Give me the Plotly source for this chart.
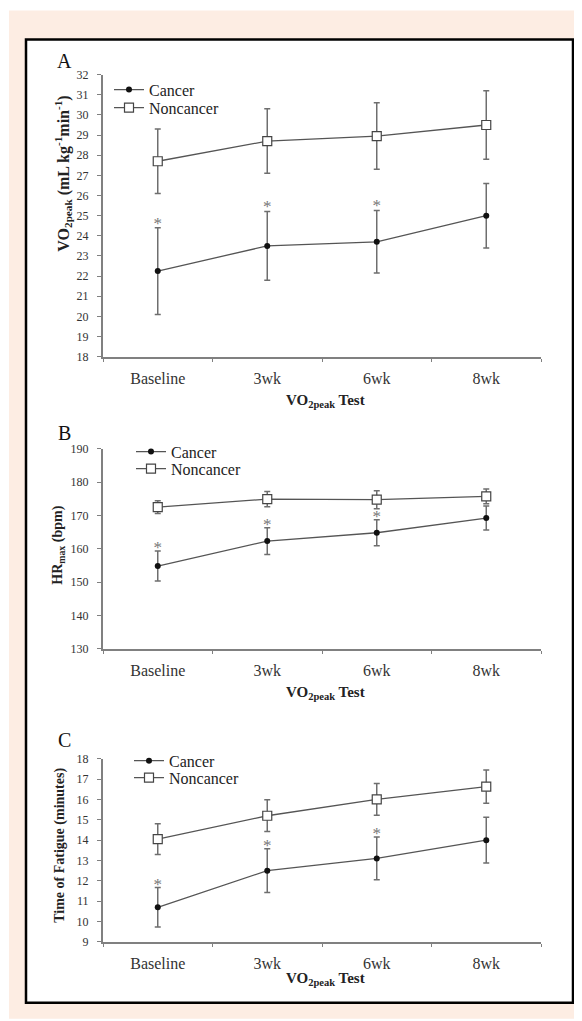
import plotly.graph_objects as go

OFF = 8  # default page body margin
W, H = 574, 1040

# empirical mapping of page y -> photographed y
Y_SCALE, Y_SHIFT = 0.9863, 6.5

categories = ["Baseline", "3wk", "6wk", "8wk"]

# Panel A: VO2peak (mL kg-1 min-1)
vo2_cancer = [22.25, 23.5, 23.7, 25.0]
vo2_cancer_err = [2.15, 1.7, 1.55, 1.6]
vo2_non = [27.7, 28.7, 28.95, 29.5]
vo2_non_err = [1.6, 1.6, 1.65, 1.7]

# Panel B: HRmax (bpm)
hr_cancer = [154.8, 162.3, 164.8, 169.2]
hr_cancer_err = [4.5, 4.0, 3.9, 3.6]
hr_non = [172.5, 174.9, 174.7, 175.7]
hr_non_err = [1.9, 2.3, 2.7, 2.2]

# Panel C: Time of fatigue (minutes)
tf_cancer = [10.7, 12.5, 13.1, 14.0]
tf_cancer_err = [0.97, 1.08, 1.05, 1.12]
tf_non = [14.05, 15.2, 16.0, 16.63]
tf_non_err = [0.75, 0.78, 0.78, 0.82]

significant = [True, True, True, False]

FONT = "Liberation Serif, Times New Roman, serif"
LINE_C = "#555555"
ERR_C = "#6e6e6e"
AXIS_C = "#808080"


def px_x(p):
    return (p - OFF) / W


def px_y(p):
    page = (p - Y_SHIFT) / Y_SCALE
    return 1 - (page - OFF) / H


panels = [
    dict(cancer=vo2_cancer, cerr=vo2_cancer_err, non=vo2_non, nerr=vo2_non_err,
         yrange=[18, 32], dtick=1, top=74, bottom=356, letter="A", letter_y=60,
         ytitle="VO<sub>2peak</sub> (mL kg<sup>-1</sup>min<sup>-1</sup>)", ytitle_x=63, ytitle_y=173,
         ytitle_size=16, xtitle_y=400, leg_x=109, leg_y=(89, 107)),
    dict(cancer=hr_cancer, cerr=hr_cancer_err, non=hr_non, nerr=hr_non_err,
         yrange=[130, 190], dtick=10, top=448, bottom=648, letter="B", letter_y=432,
         ytitle="HR<sub>max</sub> (bpm)", ytitle_x=59, ytitle_y=545,
         ytitle_size=14, xtitle_y=692, leg_x=131, leg_y=(451, 468)),
    dict(cancer=tf_cancer, cerr=tf_cancer_err, non=tf_non, nerr=tf_non_err,
         yrange=[9, 18], dtick=1, top=758, bottom=941, letter="C", letter_y=739,
         ytitle="Time of Fatigue (minutes)", ytitle_x=60, ytitle_y=845,
         ytitle_size=14, xtitle_y=978, leg_x=129, leg_y=(760, 777)),
]

fig = go.Figure()
layout_extra = {}
annotations = []
X0, X1 = 103, 541

for i, p in enumerate(panels, start=1):
    xa = "x" if i == 1 else f"x{i}"
    ya = "y" if i == 1 else f"y{i}"
    leg_c = "legend" if i == 1 else f"legend{2 * i - 1}"
    leg_n = f"legend{2 * i}"

    fig.add_trace(go.Scatter(
        x=categories, y=p["non"], name="Noncancer", mode="lines+markers",
        xaxis=xa, yaxis=ya, legend=leg_n, showlegend=True,
        line=dict(color=LINE_C, width=1.3),
        marker=dict(symbol="square", size=9, color="white",
                    line=dict(color="#444444", width=1.2)),
        error_y=dict(type="data", array=p["nerr"], color=ERR_C, thickness=1.5, width=3),
    ))
    fig.add_trace(go.Scatter(
        x=categories, y=p["cancer"], name="Cancer", mode="lines+markers",
        xaxis=xa, yaxis=ya, legend=leg_c, showlegend=True,
        line=dict(color=LINE_C, width=1.3),
        marker=dict(symbol="circle", size=6, color="#111111"),
        error_y=dict(type="data", array=p["cerr"], color=ERR_C, thickness=1.5, width=3),
    ))
    span = p["yrange"][1] - p["yrange"][0]
    sx = [c for c, s in zip(categories, significant) if s]
    sy = [v + e + 0.012 * span for v, e, s in zip(p["cancer"], p["cerr"], significant) if s]
    fig.add_trace(go.Scatter(
        x=sx, y=sy, mode="text", text=["*"] * len(sx), textposition="middle center",
        textfont=dict(family=FONT, size=17, color="#777777"),
        xaxis=xa, yaxis=ya, showlegend=False, hoverinfo="skip",
    ))

    xkey = "xaxis" if i == 1 else f"xaxis{i}"
    ykey = "yaxis" if i == 1 else f"yaxis{i}"
    layout_extra[xkey] = dict(
        domain=[px_x(X0), px_x(X1)], anchor=ya, type="category",
        categoryorder="array", categoryarray=categories, range=[-0.5, 3.5],
        showline=True, linecolor=AXIS_C, linewidth=2, showgrid=False, zeroline=False,
        ticks="outside", tickson="boundaries", ticklen=3, tickcolor=AXIS_C, tickwidth=1,
        tickfont=dict(family=FONT, size=16, color="#333333"), ticklabelstandoff=6,
    )
    layout_extra[ykey] = dict(
        domain=[px_y(p["bottom"]), px_y(p["top"])], anchor=xa, range=p["yrange"],
        dtick=p["dtick"], tick0=p["yrange"][0],
        showline=True, linecolor=AXIS_C, linewidth=2, showgrid=False, zeroline=False,
        ticks="outside", ticklen=4, tickcolor=AXIS_C, tickwidth=1,
        tickfont=dict(family=FONT, size=12, color="#333333"), ticklabelstandoff=6,
    )
    legend_common = dict(
        xanchor="left", yanchor="middle", bgcolor="rgba(0,0,0,0)", borderwidth=0,
        font=dict(family=FONT, size=16, color="#222222"), itemclick=False,
    )
    layout_extra["legend" if i == 1 else f"legend{2 * i - 1}"] = dict(
        x=px_x(p["leg_x"]), y=px_y(p["leg_y"][0]), **legend_common)
    layout_extra[f"legend{2 * i}"] = dict(
        x=px_x(p["leg_x"]), y=px_y(p["leg_y"][1]), **legend_common)

    annotations.append(dict(
        text=p["letter"], x=px_x(64), y=px_y(p["letter_y"]), xref="paper", yref="paper",
        xanchor="center", yanchor="middle",
        showarrow=False, font=dict(family=FONT, size=20, color="#111111")))
    annotations.append(dict(
        text="<b>" + p["ytitle"] + "</b>", x=px_x(p["ytitle_x"]), y=px_y(p["ytitle_y"]),
        xref="paper", yref="paper", textangle=-90, showarrow=False,
        xanchor="center", yanchor="middle",
        font=dict(family=FONT, size=p["ytitle_size"], color="#222222")))
    annotations.append(dict(
        text="<b>VO<sub>2peak</sub> Test</b>", x=px_x(325), y=px_y(p["xtitle_y"]),
        xref="paper", yref="paper", showarrow=False,
        xanchor="center", yanchor="middle",
        font=dict(family=FONT, size=15, color="#222222")))

shapes = [
    dict(type="rect", xref="paper", yref="paper", x0=px_x(9), x1=px_x(580),
         y0=px_y(1018), y1=px_y(10), fillcolor="#fdede3", line=dict(width=0), layer="below"),
    dict(type="rect", xref="paper", yref="paper", x0=px_x(26), x1=px_x(573),
         y0=px_y(1002), y1=px_y(39), fillcolor="white",
         line=dict(color="black", width=2.5), layer="below"),
]

fig.update_layout(
    width=W, height=H, margin=dict(l=0, r=0, t=0, b=0),
    paper_bgcolor="white", plot_bgcolor="rgba(0,0,0,0)",
    shapes=shapes, annotations=annotations, **layout_extra,
)

fig.write_html("out.html")
